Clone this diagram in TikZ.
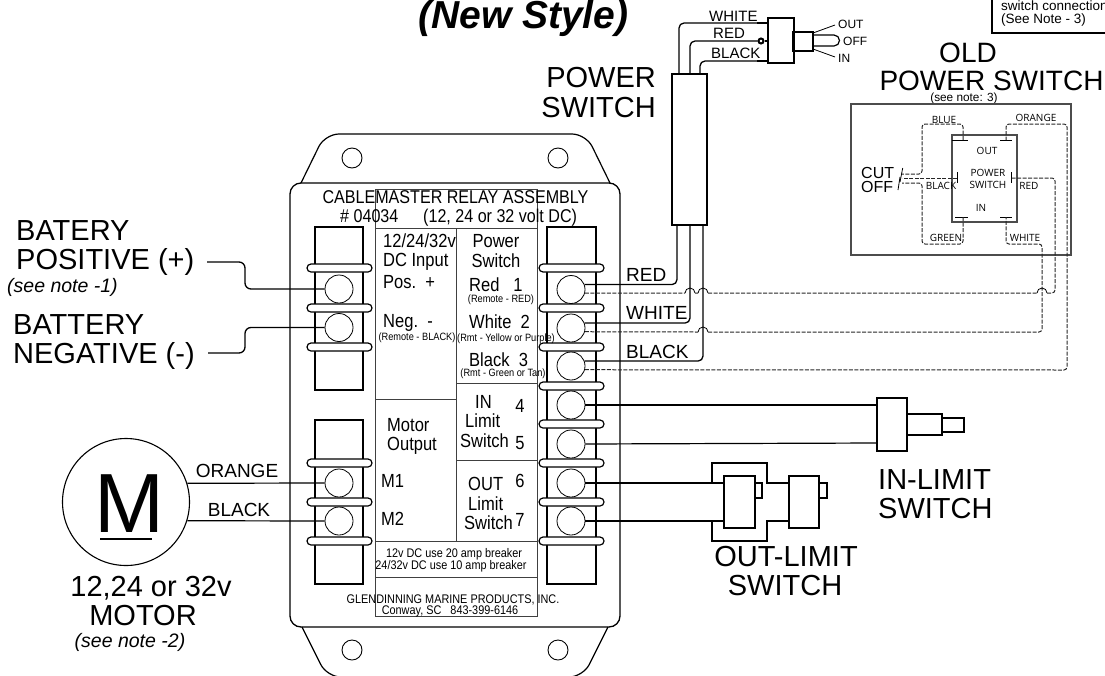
\documentclass[tikz,border=0pt]{standalone}
\usepackage{fontspec}
\setmainfont{Liberation Sans}
\newfontfamily\narrowfont[FakeStretch=0.87]{Liberation Sans}
\newfontfamily\oldfont{Open Sans}
\begin{document}
\begin{tikzpicture}[x=1pt, y=-1pt,
  line/.style = {line width=1.2pt},
  wire/.style = {line width=1.3pt, rounded corners=5pt},
  thin wire/.style = {line width=1pt, draw=black!85, dash pattern=on 4pt off 1.5pt, rounded corners=3pt},
  panel/.style = {line width=.9pt, draw=black!75},
  part/.style = {draw, line width=1.2pt, inner sep=0pt},
  bar/.style = {part, fill=white, rounded corners=4pt, minimum width=65pt, minimum height=8pt},
  lug/.style = {draw, circle, fill=white, line width=.8pt, inner sep=0pt, minimum size=28pt},
  hole/.style = {draw, circle, line width=.9pt, inner sep=0pt, minimum size=20pt},
  lbl/.style = {inner sep=0pt, anchor=base west},
  big/.style = {lbl, font=\fontsize{29}{30}\selectfont},
  mid/.style = {lbl, font=\fontsize{19}{20}\selectfont},
  small/.style = {lbl, font=\fontsize{15}{16}\selectfont},
  tiny/.style = {lbl, font=\fontsize{12}{13}\selectfont},
  nar/.style = {lbl, font=\narrowfont\fontsize{19}{20}\selectfont},
  head/.style = {lbl, font=\narrowfont\fontsize{18.5}{20}\selectfont},
  fine/.style = {lbl, anchor=base, font=\narrowfont\fontsize{10.6}{12}\selectfont},
  note/.style = {lbl, anchor=base, font=\narrowfont\fontsize{12.5}{14}\selectfont},
  old/.style = {lbl, anchor=base, font=\oldfont\fontsize{10}{11}\selectfont}]
  \useasboundingbox (0,0) rectangle (1105,675);
  \node[big, font=\bfseries\itshape\fontsize{39}{40}\selectfont] (title) at (418,28) {(New Style)};

  \node[draw, line width=1.3pt, rounded corners=11pt, inner sep=0pt, minimum width=330pt, minimum height=444pt] (body) at (455,405) {};
  \draw[line, rounded corners=14pt] (301,183) -- (325,134) -- (586,134) -- (610,183);
  \draw[line, rounded corners=14pt] (302,627) -- (327,677) -- (583,677) -- (608,627);
  \node[hole] (h1) at (352,158) {};
  \node[hole] (h2) at (558,158) {};
  \node[hole] (h3) at (352,650) {};
  \node[hole] (h4) at (558,650) {};

  \node[panel, draw, inner sep=0pt, minimum width=162pt, minimum height=427pt] (face) at (456,402.5) {};
  \draw[panel] (375,228) -- (537,228);
  \draw[panel] (456,228) -- (456,541);
  \draw[panel] (375,399) -- (456,399);
  \draw[panel] (456,383) -- (537,383);
  \draw[panel] (456,460) -- (537,460);
  \draw[panel] (375,541) -- (537,541);
  \draw[panel] (375,577) -- (537,577);

  \node[part, minimum width=48pt, minimum height=163pt] (sl1) at (339,308.5) {};
  \node[part, minimum width=48pt, minimum height=164pt] (sl2) at (339,502) {};
  \node[part, minimum width=49pt, minimum height=357pt] (sr) at (571.5,405.5) {};

  \node[bar] (a1) at (339.5,268) {};
  \node[bar] (a2) at (339.5,308) {};
  \node[bar] (a3) at (339.5,347) {};
  \node[bar] (a4) at (339.5,463) {};
  \node[bar] (a5) at (339.5,502) {};
  \node[bar] (a6) at (339.5,541) {};
  \node[bar] (b1) at (571.5,268) {};
  \node[bar] (b2) at (571.5,308) {};
  \node[bar] (b3) at (571.5,347) {};
  \node[bar] (b4) at (571.5,386) {};
  \node[bar] (b5) at (571.5,424) {};
  \node[bar] (b6) at (571.5,463) {};
  \node[bar] (b7) at (571.5,502) {};
  \node[bar] (b8) at (571.5,541) {};

  \node[lug] (l1) at (339,289) {};
  \node[lug] (l2) at (339,327.5) {};
  \node[lug] (l3) at (339,483) {};
  \node[lug] (l4) at (339,521) {};
  \node[lug] (r1) at (571,289.5) {};
  \node[lug] (r2) at (571,328) {};
  \node[lug] (r3) at (571,366) {};
  \node[lug] (r4) at (571,405) {};
  \node[lug] (r5) at (571,444) {};
  \node[lug] (r6) at (571,483) {};
  \node[lug] (r7) at (571,521) {};

  \node[head, anchor=base] (t1) at (455.5,203) {CABLEMASTER RELAY ASSEMBLY};
  \node[head] (t2) at (340,222) {\# 04034};
  \node[head] (t3) at (423,222) {(12, 24 or 32 volt DC)};
  \node[nar] (t4) at (383,247) {12/24/32v};
  \node[nar] (t5) at (383,266) {DC Input};
  \node[nar] (t6) at (383,288) {Pos.\ \ +};
  \node[nar] (t7) at (383,327) {Neg.\ \ -};
  \node[fine] (t8) at (417,340) {(Remote - BLACK)};
  \node[nar, anchor=base] (t9) at (496,247) {Power};
  \node[nar, anchor=base] (t10) at (496,267) {Switch};
  \node[nar] (t11) at (469,291) {Red\ \ \ 1};
  \node[fine] (t12) at (501,302) {(Remote - RED)};
  \node[nar] (t13) at (469,328) {White\ \ 2};
  \node[fine] (t14) at (506,341) {(Rmt - Yellow or Purple)};
  \node[nar] (t15) at (469,366) {Black\ \ 3};
  \node[fine] (t16) at (503,376) {(Rmt - Green or Tan)};
  \node[nar] (t17) at (475,408) {IN};
  \node[nar, anchor=base] (t18) at (520,412) {4};
  \node[nar] (t19) at (465,427) {Limit};
  \node[nar] (t20) at (460,447) {Switch};
  \node[nar, anchor=base] (t21) at (520,449) {5};
  \node[nar] (t22) at (387,431) {Motor};
  \node[nar] (t23) at (387,450) {Output};
  \node[nar] (t24) at (381,487) {M1};
  \node[nar] (t25) at (381,525) {M2};
  \node[nar] (t26) at (468,490) {OUT};
  \node[nar, anchor=base] (t27) at (520,487) {6};
  \node[nar] (t28) at (468,510) {Limit};
  \node[nar] (t29) at (464,529) {Switch};
  \node[nar, anchor=base] (t30) at (520,526) {7};
  \node[note] (t31) at (454,557) {12v DC use 20 amp breaker};
  \node[note] (t32) at (451,569) {24/32v DC use 10 amp breaker};
  \node[note] (t33) at (453,603) {GLENDINNING MARINE PRODUCTS, INC.};
  \node[note] (t34) at (450,614) {Conway, SC\ \ \ 843-399-6146};

  \node[big] (bat1) at (16,240) {BATERY};
  \node[big] (bat2) at (16,269) {POSITIVE (+)};
  \node[lbl, font=\itshape\fontsize{19.5}{20}\selectfont] (bat3) at (7,292) {(see note -1)};
  \node[big] (bat4) at (13,334) {BATTERY};
  \node[big] (bat5) at (13,363) {NEGATIVE (-)};
  \coordinate (bp) at (207,262);
  \coordinate (bm) at (208,353);
  \coordinate (bp1) at (245,262);
  \coordinate (bp2) at (245,289);
  \coordinate (bm1) at (245,353);
  \coordinate (bm2) at (245,327.5);
  \draw[wire, rounded corners=6pt] (bp) -- (bp1) -- (bp2) -- (l1.west);
  \draw[wire, rounded corners=6pt] (bm) -- (bm1) -- (bm2) -- (l2.west);

  \node[draw, circle, line width=1.1pt, inner sep=0pt, minimum size=127pt] (motor) at (126,502) {};
  \node[lbl, anchor=base, font=\fontsize{84}{84}\selectfont] (mm) at (129.5,532) {M};
  \coordinate (u1) at (100,539);
  \coordinate (u2) at (152,539);
  \draw[line width=1.6pt] (u1) -- (u2);
  \draw[line] (motor.17.4) -- (l3.west);
  \draw[line] (motor.-17.4) -- (l4.west);
  \node[mid, anchor=base] (w1) at (237,477) {ORANGE};
  \node[mid, anchor=base] (w2) at (239,516) {BLACK};
  \node[big, anchor=base] (mot1) at (151,596) {12,24 or 32v};
  \node[big, anchor=base] (mot2) at (143,625) {MOTOR};
  \node[lbl, anchor=base, font=\itshape\fontsize{19.5}{20}\selectfont] (mot3) at (130,647) {(see note -2)};

  \node[big, anchor=base east] (ps1) at (656,87) {POWER};
  \node[big, anchor=base east] (ps2) at (656,117) {SWITCH};
  \node[part, minimum width=35pt, minimum height=151pt] (cable) at (689.5,149.5) {};
  \node[part, minimum width=26pt, minimum height=45pt] (toggle) at (781,40.5) {};
  \node[part, minimum width=20pt, minimum height=19pt] (neck) at (803,41.5) {};
  \node[draw, circle, line width=2pt, inner sep=0pt, minimum size=5pt] (knob) at (761,41) {};
  \coordinate (c1) at (677,225);
  \coordinate (c2) at (690,225);
  \coordinate (c3) at (703,225);
  \coordinate (d1) at (679,74);
  \coordinate (d2) at (690,74);
  \coordinate (d3) at (700,74);
  \coordinate (e1) at (768,23);
  \coordinate (e3) at (768,61);
  \coordinate (e2) at (768,41);
  \coordinate (f1) at (813,33);
  \coordinate (f2) at (813,49);
  \coordinate (g1) at (835,25);
  \coordinate (g2) at (835,57);
  \draw[wire] (r1.20) -| (c1);
  \draw[wire] (r2.20) -| (c2);
  \draw[wire] (r3.20) -| (c3);
  \draw[wire] (d1) |- (e1);
  \draw[wire] (d2) |- (knob.west);
  \draw[wire] (d3) |- (e3);
  \draw[line width=2pt] (757,23) -- (e1);
  \draw[line width=2pt] (757,61) -- (e3);
  \draw[line] (knob.east) -- (e2);
  \draw[line width=.8pt] (f1) -- (g1);
  \draw[line width=.8pt] (f2) -- (g2);
  \draw[line] (813,35) -- (834,35) arc[start angle=90, end angle=-90, radius=5.5pt] -- (813,46);
  \node[small] (p1) at (709,21) {WHITE};
  \node[small] (p2) at (713,38) {RED};
  \node[small] (p3) at (711,58) {BLACK};
  \node[tiny] (p4) at (838,28) {OUT};
  \node[tiny] (p5) at (843,45) {OFF};
  \node[tiny] (p6) at (838,62) {IN};
  \node[mid] (w3) at (626,281) {RED};
  \node[mid] (w4) at (626,319) {WHITE};
  \node[mid] (w5) at (626,358) {BLACK};

  \draw[line] (r4.east) -- (877,405);
  \draw[line] (r5.east) -- (877,443);
  \node[part, minimum width=30pt, minimum height=53pt] (in1) at (892,424.5) {};
  \node[part, minimum width=35pt, minimum height=21pt] (in2) at (924.5,424.5) {};
  \node[part, minimum width=22pt, minimum height=14pt] (in3) at (953,425) {};
  \node[big] (in4) at (878,489) {IN-LIMIT};
  \node[big] (in5) at (878,518) {SWITCH};

  \node[part, fill=white, minimum width=31pt, minimum height=52pt] (o1) at (739.5,502) {};
  \node[part, minimum width=30pt, minimum height=52pt] (o2) at (804,502) {};
  \node[part, minimum width=7pt, minimum height=15pt] (o3) at (758.5,490.5) {};
  \node[part, minimum width=8pt, minimum height=15pt] (o4) at (823,490.5) {};
  \coordinate (q1) at (712,483);
  \coordinate (q2) at (712,521);
  \draw[line] (r6.east) -- (o1.west |- r6.east);
  \draw[line] (r7.east) -- (o1.west |- r7.east);
  \draw[line] (q1) -- (712,463) -- (767,463) -- (767,483) -- (o2.west |- r6.east);
  \draw[line] (q2) -- (712,541) -- (767,541) -- (767,521) -- (o2.west |- r7.east);
  \node[big, anchor=base] (o5) at (786,566) {OUT-LIMIT};
  \node[big, anchor=base] (o6) at (785,595) {SWITCH};

  \draw[line width=1.4pt] (992,0) -- (992,33) -- (1105,33);
  \node[lbl, font=\fontsize{13.5}{14}\selectfont] (n1) at (1001,10) {switch connection};
  \node[lbl, font=\fontsize{13.5}{14}\selectfont] (n2) at (1001,23.5) {(See Note - 3)};

  \node[lbl, anchor=base, font=\fontsize{28}{28}\selectfont] (os1) at (968,62) {OLD};
  \node[lbl, anchor=base, font=\fontsize{28}{28}\selectfont] (os2) at (991.5,90) {POWER SWITCH};
  \node[lbl, anchor=base, font=\fontsize{11.8}{12}\selectfont] (os3) at (964,101) {(see note: 3)};
  \node[draw, line width=1.1pt, draw=black!70, inner sep=0pt, minimum width=220pt, minimum height=151pt] (oldbox) at (961,179.5) {};
  \node[draw, line width=1.3pt, draw=black!70, inner sep=0pt, minimum width=65pt, minimum height=87pt] (oldsw) at (984.5,178.5) {};
  \coordinate (k1) at (963,140);
  \coordinate (k2) at (1006,140);
  \coordinate (k3) at (963,217);
  \coordinate (k4) at (1006,217);
  \coordinate (k5) at (957,178);
  \coordinate (k6) at (1011,178);
  \draw[line width=.8pt] (952,140) -- (968,140);
  \draw[line width=.8pt] (1000,140) -- (1012,140);
  \draw[line width=.8pt] (955,217) -- (968,217);
  \draw[line width=.8pt] (1000,217) -- (1012,217);
  \draw[line width=.8pt] (957,172) -- (957,183);
  \draw[line width=.8pt] (1011,172) -- (1011,183);
  \draw[line width=.8pt] (902.7,168) -- (900,182);
  \draw[line width=.8pt] (900,177) -- (898,190);
  \draw[thin wire] (k1) -- (963,124) -- (922,124) -- (922,174) -- (902,174);
  \draw[thin wire] (k3) -- (963,244) -- (922,244) -- (922,183) -- (902,183);
  \draw[thin wire] (k5) -- (902,178);
  \draw[thin wire] (r1.-15) -- (685,293) (695,293) -- (698,293) (708,293) -- (1037,293) (1047,293) -- (1055,293) -- (1055,178) -- (k6);
  \draw[thin wire] (r2.-15) -- (698,332) (708,332) -- (1042,332) -- (1042,244) -- (1006,244) -- (k4);
  \draw[thin wire] (r3.-15) -- (1067,370) -- (1067,124) -- (1006,124) -- (k2);
  \draw[line width=.8pt] (685,293) arc[start angle=180, end angle=0, radius=5pt];
  \draw[line width=.8pt] (698,293) arc[start angle=180, end angle=0, radius=5pt];
  \draw[line width=.8pt] (1037,293) arc[start angle=180, end angle=0, radius=5pt];
  \draw[line width=.8pt] (698,332) arc[start angle=180, end angle=0, radius=5pt];
  \node[old] (s1) at (944,123) {BLUE};
  \node[old] (s2) at (1036,121) {ORANGE};
  \node[old] (s3) at (987,154) {OUT};
  \node[old] (s4) at (988,176) {POWER};
  \node[old] (s5) at (988,188) {SWITCH};
  \node[old] (s6) at (981,211) {IN};
  \node[old] (s7) at (941,189) {BLACK};
  \node[old] (s8) at (1029,189) {RED};
  \node[old] (s9) at (946,241) {GREEN};
  \node[old] (s10) at (1025,241) {WHITE};
  \node[lbl, font=\fontsize{16}{16}\selectfont] (s11) at (861,178) {CUT};
  \node[lbl, font=\fontsize{16}{16}\selectfont] (s12) at (861,192) {OFF};
\end{tikzpicture}
\end{document}
